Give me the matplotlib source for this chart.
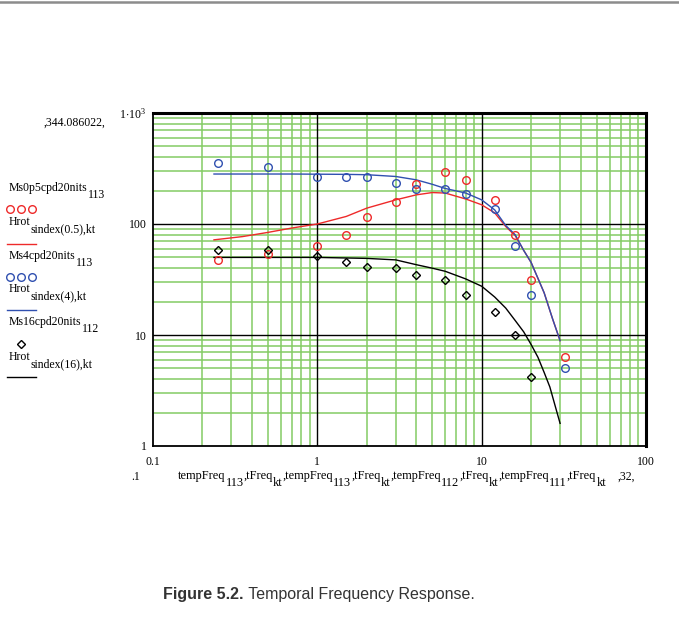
import numpy as np
import matplotlib
matplotlib.use("Agg")
import matplotlib.pyplot as plt
from matplotlib.ticker import LogLocator, NullFormatter

# measured points (temporal frequency in Hz)
freq = [0.25, 0.5, 1, 1.5, 2, 3, 4, 6, 8, 12, 16, 20, 32]
ms_0p5 = [47, 54, 64, 80, 116, 158, 230, 297, 247, 165, 80, 31, 6.3]
ms_4 = [358, 323, 267, 263, 263, 234, 208, 208, 187, 136, 64, 23, 5.0]
freq_16 = [0.25, 0.5, 1, 1.5, 2, 3, 4, 6, 8, 12, 16, 20]
ms_16 = [58, 58, 51, 45, 41, 40, 35, 31, 23, 16, 10.1, 4.2]

# model curves Hrot
kt_a = [0.235, 0.35, 0.5, 0.7, 1, 1.5, 2, 3, 4, 5, 6, 8, 10, 12, 14, 16, 18, 20, 24, 27, 30]
hrot_0p5 = [72, 77, 84, 92, 100, 117, 139, 165, 183, 192, 190, 168, 149, 126, 95, 78.5, 58, 45, 24, 14, 8.9]
hrot_4 = [282, 282, 282, 282, 281, 280, 278, 268, 250, 228, 209, 190, 165, 134, 97, 80, 58, 45, 24, 14, 8.9]
kt_b = [0.235, 1, 2, 3, 4, 5, 6, 8, 10, 12, 14, 16, 18, 20, 22, 24, 26, 28, 30]
hrot_16 = [50, 50, 49, 47.5, 43, 40, 37.5, 32, 27.5, 22, 17.5, 13.5, 10.7, 8.2, 6.3, 4.6, 3.4, 2.3, 1.6]

xticks = [0.1, 1, 10, 100]
xtick_labels = ["0.1", "1", "10", "100"]
yticks = [1, 10, 100, 1000]
ytick_labels = ["1", "10", "100", r"$1\!\cdot\!10^{3}$"]

W, H = 679, 629
plt.rcParams['mathtext.fontset'] = 'custom'
plt.rcParams['mathtext.rm'] = 'Liberation Serif'
plt.rcParams['mathtext.it'] = 'Liberation Serif'
serif = 'Liberation Serif'
fs = 8.5
green = '#84cc64'

fig = plt.figure(figsize=(W / 100, H / 100), dpi=100)
ax = fig.add_axes([153 / W, 1 - 446 / H, 493 / W, 333 / H])
ax.set_xscale('log')
ax.set_yscale('log')
ax.set_xlim(0.1, 100)
ax.set_ylim(1, 1000)

# grid: green minor lines, black interior decades
for d in [0.1, 1, 10]:
    for k in range(2, 10):
        ax.axvline(d * k, color=green, lw=1.1, zorder=1)
for d in [1, 10, 100]:
    for k in range(2, 10):
        ax.axhline(d * k, color=green, lw=1.1, zorder=1)
for v in [1, 10]:
    ax.axvline(v, color='black', lw=1.0, zorder=1.5)
for v in [10, 100]:
    ax.axhline(v, color='black', lw=1.0, zorder=1.5)

ax.plot(kt_a, hrot_0p5, color='#ee2a2a', lw=1.0, zorder=3)
ax.plot(kt_a, hrot_4, color='#3050b0', lw=1.0, zorder=3)
ax.plot(kt_b, hrot_16, color='black', lw=1.0, zorder=3)
ax.plot(freq, ms_0p5, 'o', mfc='none', mec='#ee2a2a', ms=5.5, mew=1.0, zorder=4)
ax.plot(freq, ms_4, 'o', mfc='none', mec='#3050b0', ms=5.5, mew=1.0, zorder=4)
ax.plot(freq_16, ms_16, 'D', mfc='none', mec='black', ms=4.5, mew=1.0, zorder=4)

ax.set_xticks(xticks)
ax.set_xticklabels(xtick_labels, fontsize=fs, family=serif)
ax.set_yticks(yticks)
ax.set_yticklabels(ytick_labels, fontsize=fs, family=serif)
ax.xaxis.set_minor_locator(LogLocator(subs=[]))
ax.yaxis.set_minor_locator(LogLocator(subs=[]))
ax.xaxis.set_minor_formatter(NullFormatter())
ax.yaxis.set_minor_formatter(NullFormatter())
ax.tick_params(axis='x', length=0, pad=7)
ax.tick_params(axis='y', length=0, pad=4.5)
for s in ['left', 'bottom']:
    ax.spines[s].set_linewidth(1.3)
for s in ['top', 'right']:
    ax.spines[s].set_linewidth(2.2)

# overlay in pixel coordinates for Mathcad-style labels
ov = fig.add_axes([0, 0, 1, 1])
ov.set_xlim(0, W)
ov.set_ylim(H, 0)
ov.axis('off')
renderer = fig.canvas.get_renderer()


def chain(x, y, pieces, size=fs, dy=7):
    for txt, is_sub in pieces:
        t = ov.text(x, y + (dy if is_sub else 0), txt, fontsize=size,
                    family=serif, ha='left', va='center')
        x += t.get_window_extent(renderer).width
    return x


ov.plot([0, W], [2, 2], color='#8c8c8c', lw=1.8)

ov.text(44, 123, ",344.086022,", fontsize=fs, family=serif, ha='left', va='center')

chain(9, 188, [("Ms0p5cpd20nits", False), ("113", True)])
ov.plot([10, 21, 32], [209, 209, 209], 'o', mfc='none', mec='#ee2a2a', ms=5.5, mew=1.0)
chain(9, 222, [("Hrot", False), ("sindex(0.5),kt", True)])
ov.plot([7, 36], [244, 244], color='#ee2a2a', lw=1.0)

chain(9, 256, [("Ms4cpd20nits", False), ("113", True)])
ov.plot([10, 21, 32], [277, 277, 277], 'o', mfc='none', mec='#3050b0', ms=5.5, mew=1.0)
chain(9, 289, [("Hrot", False), ("sindex(4),kt", True)])
ov.plot([7, 36], [310, 310], color='#3050b0', lw=1.0)

chain(9, 322, [("Ms16cpd20nits", False), ("112", True)])
ov.plot([21], [344], 'D', mfc='none', mec='black', ms=4.5, mew=1.0)
chain(9, 357, [("Hrot", False), ("sindex(16),kt", True)])
ov.plot([7, 36], [377, 377], color='black', lw=1.0)

# x axis range and variable labels
ov.text(131, 477, ".1", fontsize=fs, family=serif, ha='left', va='center')
ov.text(618, 477, ",32,", fontsize=fs, family=serif, ha='left', va='center')
chain(178, 476, [("tempFreq", False), ("113", True), (",tFreq", False), ("kt", True),
                 (",tempFreq", False), ("113", True), (",tFreq", False), ("kt", True),
                 (",tempFreq", False), ("112", True), (",tFreq", False), ("kt", True),
                 (",tempFreq", False), ("111", True), (",tFreq", False), ("kt", True)],
      size=8.9)

# caption
t = ov.text(163, 594, "Figure 5.2.", fontsize=11.5, family='Liberation Sans',
            weight='bold', color='#333333', ha='left', va='center')
x_end = 163 + t.get_window_extent(renderer).width
ov.text(x_end, 594, " Temporal Frequency Response.", fontsize=11.5,
        family='Liberation Sans', color='#333333', ha='left', va='center')

fig.savefig("out.png", dpi=100)
